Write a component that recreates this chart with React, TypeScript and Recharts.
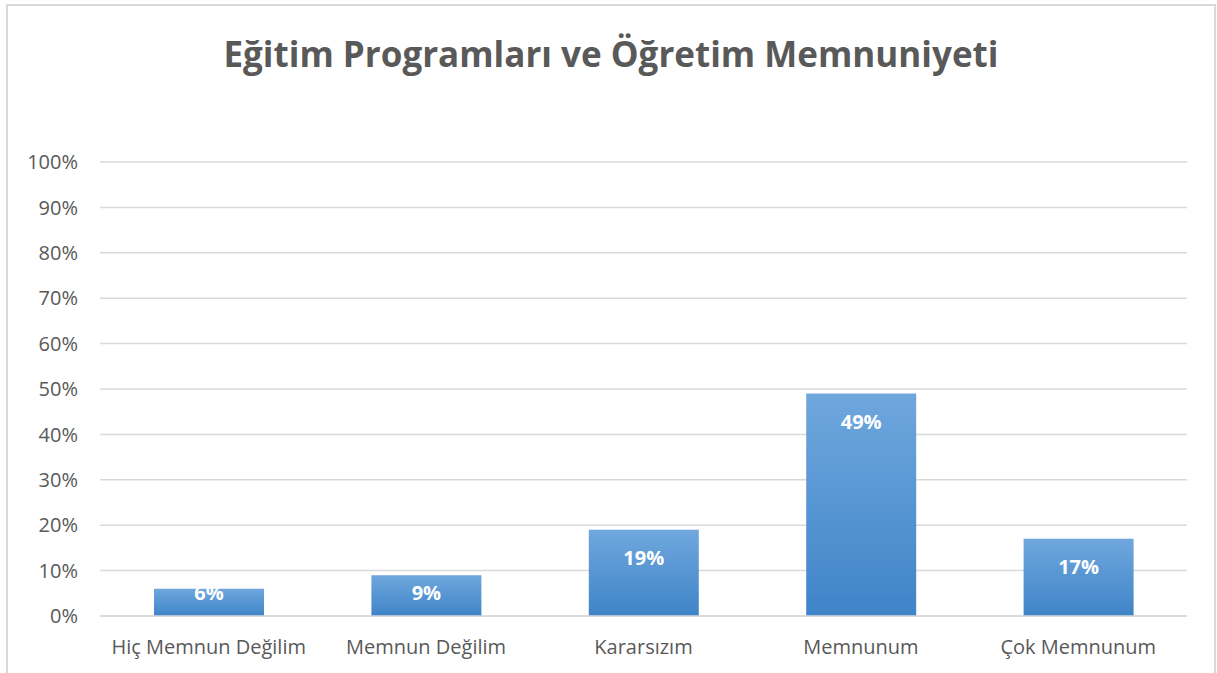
import React from "react";
import { BarChart, Bar, XAxis, YAxis, CartesianGrid, LabelList } from "recharts";

const categories = ["Hiç Memnun Değilim", "Memnun Değilim", "Kararsızım", "Memnunum", "Çok Memnunum"];
const percentages = [6, 9, 19, 49, 17];
const yTicks = [0, 10, 20, 30, 40, 50, 60, 70, 80, 90, 100];

const data = categories.map((name, i) => ({ name, value: percentages[i] }));

const FONT = "'Open Sans', sans-serif";

function BarValueLabel(props: any) {
  const { x, y, width, height, value } = props;
  const bottom = y + height;
  const cy = Math.min(y + 28, bottom - 24);
  return (
    <text
      x={x + width / 2}
      y={cy}
      textAnchor="middle"
      dominantBaseline="central"
      fill="#ffffff"
      fontWeight={700}
      fontSize={20}
      fontFamily={FONT}
    >
      {`${value}%`}
    </text>
  );
}

export default function App() {
  return (
    <div style={{ position: "absolute", left: 0, top: 0, width: 1217, height: 673, overflow: "hidden", background: "#fff" }}>
      <div
        style={{
          position: "absolute",
          left: 6,
          top: 4,
          width: 1206,
          height: 720,
          border: "2px solid #d9d9d9",
        }}
      />
      <div
        style={{
          position: "absolute",
          left: 0,
          top: 29,
          width: 1222,
          textAlign: "center",
          fontFamily: FONT,
          fontWeight: 700,
          fontSize: 35,
          color: "#595959",
          lineHeight: "50px",
        }}
      >
        Eğitim Programları ve Öğretim Memnuniyeti
      </div>
      <div style={{ position: "absolute", left: 0, top: 0 }}>
        <BarChart width={1217} height={673} data={data} margin={{ top: 162, right: 30, bottom: 7, left: 10 }}>
          <defs>
            <linearGradient id="barGrad" x1="0" y1="0" x2="0" y2="1">
              <stop offset="0%" stopColor="#6fa7dd" />
              <stop offset="100%" stopColor="#3f84c8" />
            </linearGradient>
          </defs>
          <CartesianGrid vertical={false} stroke="#d9d9d9" strokeWidth={1.5} />
          <XAxis
            dataKey="name"
            height={50}
            axisLine={{ stroke: "#d9d9d9", strokeWidth: 1.5 }}
            tickLine={false}
            tick={{ fill: "#595959", fontSize: 20, fontFamily: FONT }}
            dy={16}
            interval={0}
          />
          <YAxis
            width={90}
            domain={[0, 100]}
            ticks={yTicks}
            axisLine={false}
            tickLine={false}
            tickFormatter={(v) => `${v}%`}
            tick={{ fill: "#595959", fontSize: 20, fontFamily: FONT }}
            dx={-14}
          />
          <Bar dataKey="value" fill="url(#barGrad)" barSize={110} isAnimationActive={false}>
            <LabelList dataKey="value" content={BarValueLabel} />
          </Bar>
        </BarChart>
      </div>
    </div>
  );
}
